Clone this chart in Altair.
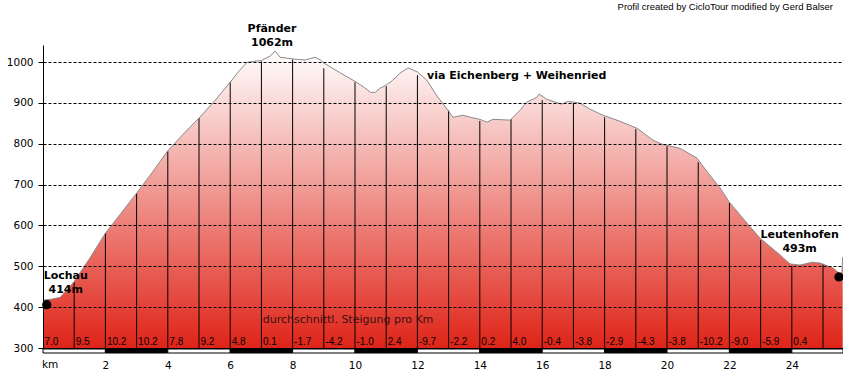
import altair as alt
import pandas as pd

# ---- data ----
profile_km = [0.0, 0.3, 0.55, 0.75, 1.0, 1.5, 2.0, 2.5, 3.0, 3.5, 4.0, 4.4, 4.7, 5.0, 5.5, 6.0, 6.3, 6.55,
              7.0, 7.28, 7.44, 7.6, 8.0, 8.4, 8.72, 8.9, 9.0, 9.5, 10.0, 10.3, 10.5, 10.65, 10.8, 11.0,
              11.2, 11.44, 11.7, 12.0, 12.3, 12.6, 12.98, 13.14, 13.46, 13.7, 14.0, 14.23, 14.42, 14.97,
              15.29, 15.5, 15.83, 15.9, 16.15, 16.63, 16.83, 17.2, 17.53, 17.95, 18.5, 19.04, 19.55,
              19.84, 20.42, 20.96, 21.3, 21.7, 22.0, 22.56, 22.98, 23.62, 23.94, 24.26, 24.65, 24.9,
              25.32, 25.5, 25.6, 25.63]
profile_elev = [417, 420, 424, 440, 463, 520, 581, 630, 679, 730, 783, 816, 840, 863, 905, 951, 980, 1000,
                1004, 1015, 1027, 1012, 1008, 1005, 1012, 1005, 998, 975, 953, 938, 926, 926, 936, 944,
                955, 973, 986, 976, 956, 920, 882, 865, 870, 865, 860, 853, 860, 858,
                882, 902, 914, 922, 909, 897, 904, 900, 885, 870, 855, 838, 809,
                799, 789, 765, 730, 692, 657, 606, 569, 528, 506, 503, 510, 508,
                496, 484, 478, 523]

km_marks = list(range(1, 26))
km_line_top = [461, 581, 679, 782, 863, 951, 1002, 1007, 985, 951, 941, 968, 882, 856, 860,
               907, 900, 865, 836, 794, 755, 655, 564, 501, 506]

grad_km = list(range(0, 25))
grad_labels = ["7.0", "9.5", "10.2", "10.2", "7.8", "9.2", "4.8", "0.1", "-1.7", "-4.2", "-1.0", "2.4",
               "-9.7", "-2.2", "0.2", "4.0", "-0.4", "-3.8", "-2.9", "-4.3", "-3.8", "-10.2", "-9.0",
               "-5.9", "0.4"]

bar_start = [0, 2, 4, 6, 8, 10, 12, 14, 16, 18, 20, 22, 24]
bar_end = [2, 4, 6, 8, 10, 12, 14, 16, 18, 20, 22, 24, 25.64]
bar_fill = ["white", "black"] * 6 + ["white"]

place_text = ["Pfänder", "1062m", "Lochau", "414m", "Leutenhofen", "493m"]
place_km = [7.34, 7.34, 0.73, 0.73, 24.25, 24.25]
place_elev = [1082, 1048, 477, 443, 577, 543]

via_text = ["via Eichenberg + Weihenried"]
via_km = [12.31]
via_elev = [966]

dot_km = [0.12, 25.51]
dot_elev = [406, 474]

y_ticks = [300, 400, 500, 600, 700, 800, 900, 1000]
x_ticks = [2, 4, 6, 8, 10, 12, 14, 16, 18, 20, 22, 24]

X_DOM = [0, 25.64]
Y_DOM = [300, 1042]

prof = pd.DataFrame({"km": profile_km, "elev": profile_elev})
kml = pd.DataFrame({"km": km_marks, "elev": km_line_top})
grad = pd.DataFrame({"km": grad_km, "label": grad_labels})
bars = pd.DataFrame({"km": bar_start, "km_end": bar_end, "fill": bar_fill})
places = pd.DataFrame({"km": place_km, "elev": place_elev, "text": place_text})
via = pd.DataFrame({"km": via_km, "elev": via_elev, "text": via_text})
dots = pd.DataFrame({"km": dot_km, "elev": dot_elev})

xs = alt.Scale(domain=X_DOM, nice=False, zero=False)
ys = alt.Scale(domain=Y_DOM, nice=False, zero=False)

x_axis = alt.Axis(
    values=x_ticks, ticks=False, grid=False, domainColor="black", domainWidth=1,
    labelFont="DejaVu Sans", labelFontSize=10.5, labelColor="black", labelPadding=12,
    labelFlush=False, title=None, zindex=1, format="d")
y_axis = alt.Axis(
    values=y_ticks, grid=True, gridDash=[3, 2], gridColor="black", gridOpacity=1,
    tickColor="black", tickSize=5, domainColor="black", labelFont="DejaVu Sans",
    labelFontSize=10.5, labelColor="black", labelPadding=5, title=None, zindex=1, format="d")

X = alt.X("km:Q", scale=xs, axis=x_axis)
Y = alt.Y("elev:Q", scale=ys, axis=y_axis)

area = alt.Chart(prof).mark_area(
    color=alt.Gradient(
        gradient="linear",
        stops=[alt.GradientStop(color="#ffffff", offset=0),
               alt.GradientStop(color="#df2418", offset=1)],
        x1=1, x2=1, y1=0, y2=1),
    interpolate="linear",
).encode(x=X, y=Y, y2=alt.datum(300))

rules = alt.Chart(kml).mark_rule(color="black", strokeWidth=1).encode(
    x=X, y=Y, y2=alt.datum(300))

outline = alt.Chart(prof).mark_line(color="#8a8a8a", strokeWidth=1).encode(x=X, y=Y)

barchart = alt.Chart(bars).mark_rect(stroke="black", strokeWidth=1).encode(
    x=X, x2="km_end:Q",
    y=alt.value(304), y2=alt.value(308),
    fill=alt.Fill("fill:N", scale=None),
)

gradtext = alt.Chart(grad).mark_text(
    align="left", baseline="middle", dx=1.5, font="Liberation Sans", fontSize=10, color="black"
).encode(x=X, y=alt.value(297), text="label:N")

placetext = alt.Chart(places).mark_text(
    align="center", baseline="middle", font="DejaVu Sans", fontSize=11, fontWeight="bold",
    color="black"
).encode(x=X, y=Y, text="text:N")

viatext = alt.Chart(via).mark_text(
    align="left", baseline="middle", font="DejaVu Sans", fontSize=11, fontWeight="bold",
    color="black"
).encode(x=X, y=Y, text="text:N")

dotlayer = alt.Chart(dots).mark_point(filled=True, color="black", size=85, opacity=1).encode(
    x=X, y=Y)

credit = alt.Chart(pd.DataFrame({"t": ["Profil created by CicloTour modified by Gerd Balser"]})).mark_text(
    align="right", baseline="middle", font="Liberation Sans", fontSize=9.5, color="black"
).encode(x=alt.value(790), y=alt.value(-38), text="t:N")

avgtext = alt.Chart(pd.DataFrame({"t": ["durchschnittl. Steigung pro Km"]})).mark_text(
    align="center", baseline="middle", font="DejaVu Sans", fontSize=11, color="#3a1010"
).encode(x=alt.value(305), y=alt.value(275), text="t:N")

kmtext = alt.Chart(pd.DataFrame({"t": ["km"]})).mark_text(
    align="left", baseline="middle", font="DejaVu Sans", fontSize=10.5, color="black"
).encode(x=alt.value(-1), y=alt.value(320), text="t:N")

chart = alt.layer(
    area, rules, outline, barchart, gradtext, avgtext, placetext, viatext, dotlayer, credit, kmtext
).properties(
    width=800, height=303,
    padding={"left": 43, "top": 45, "right": 0, "bottom": 25},
    autosize=alt.AutoSizeParams(type="none"),
).configure_view(stroke=None)

chart.save("out.html", embed_options={"renderer": "svg", "actions": False})
